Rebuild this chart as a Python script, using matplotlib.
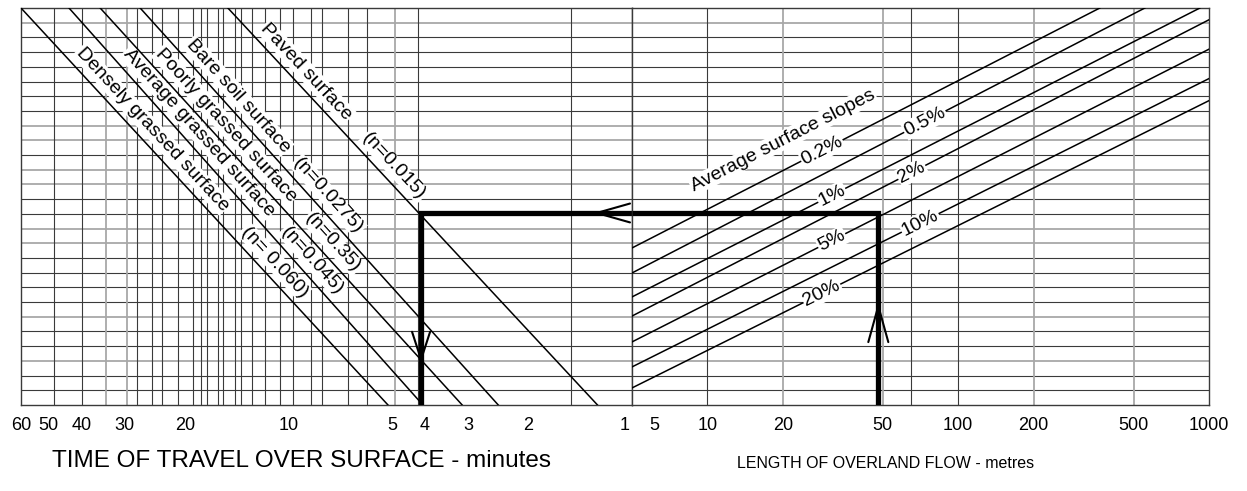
import numpy as np
import matplotlib
matplotlib.use("Agg")
import matplotlib.pyplot as plt
import matplotlib.transforms as mtransforms
from matplotlib.ticker import NullLocator

plt.rcParams["font.family"] = ["Liberation Sans", "DejaVu Sans"]

# left panel: time of travel over surface (minutes), log axis running 60 -> 1
TIME_TICKS = [60, 50, 40, 30, 20, 10, 5, 4, 3, 2, 1]
TIME_GRID_DARK = [48, 40, 27.5, 25, 23.3, 21, 19, 18, 17.3, 16, 15.5, 14.3, 13.7,
                  12.8, 11.7, 10.6, 9.7, 8.6, 8, 6.7, 5.9, 4.2, 1.5]
TIME_GRID_LIGHT = [34, 29.5, 4.9]

# right panel: length of overland flow (metres)
LENGTH_TICKS = [5, 10, 20, 50, 100, 200, 500, 1000]
LENGTH_GRID_DARK = [10, 65, 100]
LENGTH_GRID_LIGHT = [20, 50, 200, 500]

# hidden turning scale of the nomograph
Y_GRID = list(range(1, 27))
Y_GRID_LIGHT = [3, 6, 11, 12, 15, 16, 18, 19, 26]

# surface roughness lines (left)
SURFACES = ["Densely grassed surface", "Average grassed surface",
            "Poorly grassed surface", "Bare soil surface", "Paved surface"]
MANNING_N = ["(n= 0.060)", "(n=0.045)", "(n=0.35)", "(n=0.0275)", "(n=0.015)"]
T_TOP = [60, 43.5, 35.3, 27.0, 15.0]
T_BOTTOM = [5.13, 4.06, 3.12, 2.45, 1.26]
NAME_Y = [18.1, 17.9, 18.4, 20.4, 22.0]
N_Y = [9.1, 9.2, 10.4, 13.6, 15.6]

# surface slope lines (right)
SLOPES = ["0.2%", "0.5%", "1%", "2%", "5%", "10%", "20%"]
SLOPE_Y_START = [10.68, 8.98, 7.35, 6.05, 4.29, 2.59, 1.16]   # at L = 5 m
SLOPE_L_END = [367, 555, 920, 1000, 1000, 1000, 1000]
SLOPE_Y_END = [27, 27, 27, 26.2, 24.2, 22.2, 20.7]
SLOPE_LABEL_L = [28.6, 73.6, 31.3, 65.3, 31.3, 70.5, 28.6]
SLOPE_TITLE_L, SLOPE_TITLE_Y = 20.0, 18.0

# worked example
EX_LENGTH = 48
EX_TIME = 4.11
EX_Y = 13.06
ARROW_LEFT_T = 1.30
ARROW_DOWN_Y = 2.86
ARROW_UP_Y = 7.0

DARK = "#3a3a3a"
LIGHT = "#a8a8a8"

fig = plt.figure(figsize=(12.47, 4.91), dpi=100)
ax_t = fig.add_axes([21 / 1247, 86 / 491, 611 / 1247, 397 / 491])
ax_l = fig.add_axes([632 / 1247, 86 / 491, 577 / 1247, 397 / 491])

for ax in (ax_t, ax_l):
    ax.set_xscale("log")
    ax.set_ylim(0, 27)
    ax.set_yticks([])
    ax.tick_params(axis="x", length=0, pad=9, labelsize=13)
    for sp in ax.spines.values():
        sp.set_color(DARK)
        sp.set_linewidth(1.0)
    for y in Y_GRID:
        if y in Y_GRID_LIGHT:
            ax.axhline(y, color=LIGHT, lw=1.3, zorder=1)
        else:
            ax.axhline(y, color=DARK, lw=0.8, zorder=1)

ax_t.set_xlim(60, 1)
ax_l.set_xlim(5, 1000)

for ax, ticks in ((ax_t, TIME_TICKS), (ax_l, LENGTH_TICKS)):
    ax.set_xticks(ticks, [str(v) for v in ticks])
    ax.xaxis.set_minor_locator(NullLocator())

for v in TIME_GRID_DARK:
    ax_t.axvline(v, color=DARK, lw=0.8, zorder=1)
for v in TIME_GRID_LIGHT:
    ax_t.axvline(v, color=LIGHT, lw=1.3, zorder=1)
for v in LENGTH_GRID_DARK:
    ax_l.axvline(v, color=DARK, lw=0.8, zorder=1)
for v in LENGTH_GRID_LIGHT:
    ax_l.axvline(v, color=LIGHT, lw=1.3, zorder=1)

# nudge the two labels that sit on the shared border
for lab in ax_t.get_xticklabels():
    if lab.get_text() == "1":
        lab.set_transform(lab.get_transform() + mtransforms.ScaledTranslation(-7 / 100, 0, fig.dpi_scale_trans))
for lab in ax_l.get_xticklabels():
    if lab.get_text() == "5":
        lab.set_transform(lab.get_transform() + mtransforms.ScaledTranslation(22 / 100, 0, fig.dpi_scale_trans))


def disp_angle(ax, p0, p1):
    a = ax.transData.transform(p0)
    b = ax.transData.transform(p1)
    return np.degrees(np.arctan2(b[1] - a[1], b[0] - a[0]))


def interp_log(x0, y0, x1, y1, y=None, x=None):
    # point on a straight (log-x) line, given y or x
    lx0, lx1 = np.log10(x0), np.log10(x1)
    if y is not None:
        f = (y - y0) / (y1 - y0)
        return 10 ** (lx0 + f * (lx1 - lx0)), y
    f = (np.log10(x) - lx0) / (lx1 - lx0)
    return x, y0 + f * (y1 - y0)


white_box = dict(boxstyle="square,pad=0.05", fc="white", ec="none")

# roughness lines
for name, n_lab, tt, tb, ny, nny in zip(SURFACES, MANNING_N, T_TOP, T_BOTTOM, NAME_Y, N_Y):
    ax_t.plot([tt, tb], [27, 0], color="black", lw=1.1, zorder=3)
    ang = disp_angle(ax_t, (tt, 27), (tb, 0))
    off = 10
    dx = -np.sin(np.radians(ang)) * off
    dy = np.cos(np.radians(ang)) * off
    for txt, yy in ((name, ny), (n_lab, nny)):
        pt = interp_log(tt, 27, tb, 0, y=yy)
        ax_t.annotate(txt, xy=pt, xytext=(dx, dy), textcoords="offset points",
                      ha="center", va="center", rotation=ang, rotation_mode="anchor",
                      fontsize=14, bbox=white_box, zorder=2)

# slope lines
for lab, y0, le, ye, ll in zip(SLOPES, SLOPE_Y_START, SLOPE_L_END, SLOPE_Y_END, SLOPE_LABEL_L):
    ax_l.plot([5, le], [y0, ye], color="black", lw=1.1, zorder=3)
    ang = disp_angle(ax_l, (5, y0), (le, ye))
    pt = interp_log(5, y0, le, ye, x=ll)
    ax_l.text(pt[0], pt[1], lab, ha="center", va="center", rotation=ang,
              rotation_mode="anchor", fontsize=14, bbox=white_box, zorder=4)

ang = disp_angle(ax_l, (5, SLOPE_Y_START[0]), (SLOPE_L_END[0], SLOPE_Y_END[0]))
ax_l.text(SLOPE_TITLE_L, SLOPE_TITLE_Y, "Average surface slopes", ha="center", va="center",
          rotation=ang, rotation_mode="anchor", fontsize=14, bbox=white_box, zorder=4)

# worked example path
thick = dict(color="black", lw=3.8, solid_capstyle="butt", solid_joinstyle="miter", zorder=5)
ax_t.plot([EX_TIME, EX_TIME, 1], [0, EX_Y, EX_Y], **thick)
ax_l.plot([5, EX_LENGTH, EX_LENGTH], [EX_Y, EX_Y, 0], **thick)


def open_arrow(ax, tip, tail, hl, hw):
    ax.annotate("", xy=tip, xytext=tail,
                arrowprops=dict(arrowstyle=f"->,head_length={hl},head_width={hw}",
                                color="black", lw=1.5, shrinkA=0, shrinkB=0,
                                mutation_scale=10),
                zorder=6)


open_arrow(ax_t, (ARROW_LEFT_T, EX_Y), (1.0, EX_Y), 2.4, 0.68)
open_arrow(ax_t, (EX_TIME, ARROW_DOWN_Y), (EX_TIME, ARROW_DOWN_Y + 3), 2.0, 0.65)
open_arrow(ax_l, (EX_LENGTH, ARROW_UP_Y), (EX_LENGTH, ARROW_UP_Y - 3), 2.6, 0.72)

fig.text(301 / 1247, 1 - 461 / 491, "TIME OF TRAVEL OVER SURFACE - minutes",
         fontsize=17.5, ha="center", va="center")
fig.text(886 / 1247, 1 - 464 / 491, "LENGTH OF OVERLAND FLOW - metres",
         fontsize=11.5, ha="center", va="center")

fig.savefig("out.png", dpi=100)
